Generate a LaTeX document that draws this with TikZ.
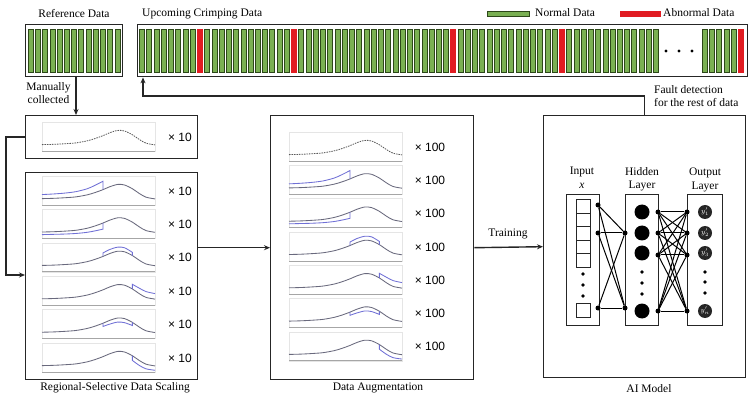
\documentclass[tikz,border=0pt]{standalone}
\usepackage{fontspec}
\setmainfont{Liberation Serif}
\setsansfont{Liberation Sans}
\usetikzlibrary{arrows.meta,calc}
\definecolor{barfill}{RGB}{122,176,82}
\definecolor{baredge}{RGB}{45,72,25}
\definecolor{badred}{RGB}{225,28,34}
\definecolor{curveblue}{RGB}{112,112,214}
\definecolor{curvegray}{RGB}{105,105,125}

\newcommand\basepath[1]{\draw[#1] plot[smooth] coordinates {(0,0.22) (0.1,0.23) (0.2,0.25) (0.3,0.28) (0.4,0.35) (0.47,0.43) (0.54,0.53) (0.6,0.63) (0.67,0.71) (0.73,0.69) (0.8,0.56) (0.86,0.40) (0.92,0.27) (1,0.21)};}

\newcommand\crimpplot[3]{%
  \begin{scope}[shift={(#1,#2+29)}, x=113pt, y=29pt]
    \draw[plotframe] (0,0) rectangle (1,1);
    \draw[axisline] (0,0) -- (1,0);
    \ifnum#3=0
      \basepath{refcurve}
    \else
      \basepath{basec}
      \ifcase#3\or
        \draw[bluec] plot[smooth] coordinates {(0,0.36) (0.1,0.38) (0.2,0.41) (0.3,0.46) (0.4,0.56) (0.47,0.68) (0.54,0.82)} -- (0.54,0.53);
      \or
        \draw[bluec] plot[smooth] coordinates {(0,0.13) (0.1,0.14) (0.2,0.15) (0.3,0.17) (0.4,0.21) (0.47,0.26) (0.54,0.32)} -- (0.54,0.53);
      \or
        \draw[bluec] (0.54,0.53) -- plot[smooth] coordinates {(0.54,0.65) (0.6,0.77) (0.67,0.85) (0.73,0.83) (0.8,0.67)} -- (0.8,0.56);
      \or
        \draw[bluec] (0.8,0.56) -- plot[smooth] coordinates {(0.8,0.72) (0.86,0.59) (0.92,0.47) (1,0.40)};
      \or
        \draw[bluec] (0.54,0.53) -- plot[smooth] coordinates {(0.54,0.42) (0.6,0.50) (0.67,0.57) (0.73,0.55) (0.8,0.45)} -- (0.8,0.56);
      \or
        \draw[bluec] (0.8,0.56) -- plot[smooth] coordinates {(0.8,0.40) (0.86,0.23) (0.92,0.11) (1,0.06)};
      \fi
    \fi
  \end{scope}}

\begin{document}
\begin{tikzpicture}[x=1pt,y=-1pt,
  font=\fontsize{11.5}{13}\selectfont,
  container/.style={draw=black!85, line width=1.4pt, inner sep=0pt, anchor=north west},
  nncol/.style={draw=black!85, line width=1pt, inner sep=0pt, anchor=north west, minimum height=131pt},
  arr/.style={draw=black!85, line width=1.4pt, -{Stealth[length=6pt,width=5pt]}},
  lbl/.style={inner sep=0pt},
  mult/.style={font=\sffamily\fontsize{12}{14}\selectfont, inner sep=0pt},
  goodbar/.style={draw=baredge, fill=barfill, line width=0.7pt},
  badbar/.style={draw=badred, fill=badred, line width=0.7pt},
  plotframe/.style={draw=black!10, line width=0.5pt},
  axisline/.style={draw=black!35, line width=0.7pt},
  refcurve/.style={draw=black!65, dash pattern=on 1.5pt off 1pt, line width=0.8pt},
  basec/.style={draw=curvegray, line width=0.85pt},
  bluec/.style={draw=curveblue, line width=0.85pt},
  neuron/.style={circle, fill=black, inner sep=0pt, minimum size=15pt},
  outneuron/.style={circle, fill=black!85, inner sep=0pt, minimum size=14pt, text=white, font=\fontsize{7}{7}\selectfont},
  jdot/.style={circle, fill=black, inner sep=0pt, minimum size=5pt},
  cell/.style={draw=black!85, line width=0.8pt, minimum width=14pt, minimum height=13.6pt, inner sep=0pt, anchor=north west},
  nnline/.style={line width=1pt, draw=black}
]
\useasboundingbox (0,0) rectangle (750,414);
\fill[white] (0,0) rectangle (750,414);

% ---------- top data strips ----------
\node[lbl] (reftitle) at (74,14) {Reference Data};
\node[lbl, anchor=west] (upctitle) at (142,14) {Upcoming Crimping Data};
\node[container, minimum width=97pt, minimum height=52pt] (ref) at (25,24) {};
\node[container, minimum width=610pt, minimum height=52pt] (upc) at (137,24) {};

\foreach \i in {0,...,12} {
  \pgfmathsetmacro\cx{30.8+7.22*\i}
  \draw[goodbar] (\cx-2.5,29) rectangle (\cx+2.5,72);
}
\foreach \i in {0,...,71} {
  \pgfmathsetmacro\cx{142+7.24*\i}
  \draw[goodbar] (\cx-2.5,29) rectangle (\cx+2.5,72);
}
\foreach \i in {8,21,43,58} {
  \pgfmathsetmacro\cx{142+7.24*\i}
  \draw[badbar] (\cx-2.5,29) rectangle (\cx+2.5,72);
}
\foreach \k in {1,...,5} {
  \pgfmathsetmacro\cx{741-7.24*\k}
  \draw[goodbar] (\cx-2.5,29) rectangle (\cx+2.5,72);
}
\draw[badbar] (738.5,29) rectangle (743.5,72);
\foreach \dx in {666,679,692} \fill (\dx,51) circle (1.7pt);

% legend
\draw[goodbar] (487,11) rectangle (529,16);
\node[lbl, anchor=west] (normleg) at (535,13) {Normal Data};
\draw[badbar] (620,11) rectangle (660,16);
\node[lbl, anchor=west] (abnleg) at (663,13) {Abnormal Data};

% ---------- left column ----------
\node[container, minimum width=172pt, minimum height=43pt] (box1) at (25,115) {};
\node[container, minimum width=172pt, minimum height=207pt] (box2) at (25,172) {};
\node[lbl] (rsds) at (115,388) {Regional-Selective Data Scaling};

\crimpplot{42}{122}{0}
\node[mult] (m0) at (180,137) {× 10};
\foreach \k/\t in {0/1,1/2,2/3,3/4,4/5,5/6} {
  \pgfmathsetmacro\ty{176+33.4*\k}
  \crimpplot{42}{\ty}{\t}
  \node[mult] (ml\t) at (180,\ty+15) {× 10};
}

% ---------- augmentation ----------
\node[container, minimum width=203pt, minimum height=264pt] (aug) at (270,115) {};
\node[lbl] (augtitle) at (378,388) {Data Augmentation};
\foreach \k/\t in {0/0,1/1,2/2,3/3,4/4,5/5,6/6} {
  \pgfmathsetmacro\ty{132+33.3*\k}
  \crimpplot{289}{\ty}{\t}
  \node[mult] (ma\k) at (430,\ty+15) {× 100};
}

% ---------- AI model ----------
\node[container, minimum width=202pt, minimum height=262pt] (ai) at (543,115) {};
\node[lbl] (aititle) at (649,389) {AI Model};

\node[nncol, minimum width=33pt] (incol) at (566,194) {};
\node[nncol, minimum width=33pt] (hidcol) at (625,194) {};
\node[nncol, minimum width=35pt] (outcol) at (687,194) {};

\node[lbl] (inl1) at (582,172) {Input};
\node[lbl] (inl2) at (582,186) {\textit{x}};
\node[lbl] (hil1) at (642,172) {Hidden};
\node[lbl] (hil2) at (642,186) {Layer};
\node[lbl] (oul1) at (705,173) {Output};
\node[lbl] (oul2) at (705,187) {Layer};

\foreach \j in {0,...,4} \node[cell] (c\j) at (576,199+13.6*\j) {};
\node[cell] (clast) at (576,303) {};
\foreach \dy in {274,285,296} \fill (583,\dy) circle (1.8pt);

\foreach \n/\yy in {1/212,2/233,3/253,4/311} \node[neuron] (h\n) at (642,\yy) {};
\foreach \dy in {272,283,294} \fill (642,\dy) circle (1.8pt);

\node[outneuron] (o1) at (705,212) {$y'_1$};
\node[outneuron] (o2) at (705,233) {$y'_2$};
\node[outneuron] (o3) at (705,253) {$y'_3$};
\node[outneuron] (o4) at (705,311) {$y'_n$};
\foreach \dy in {272,282,293} \fill (705,\dy) circle (1.8pt);

% junction dots
\node[jdot] (i1) at (598,205) {};
\node[jdot] (i2) at (598,233) {};
\node[jdot] (i3) at (598,308) {};
\node[jdot] (hl1) at (625,233) {};
\node[jdot] (hl2) at (625,308) {};
\foreach \n/\yy in {1/212,2/233,3/255,4/311} {
  \node[jdot] (hr\n) at (658,\yy) {};
  \node[jdot] (ol\n) at (687,\yy) {};
}
\foreach \a in {i1,i2,i3} \foreach \b in {hl1,hl2} \draw[nnline] (\a) -- (\b);
\foreach \a in {1,...,4} \foreach \b in {1,...,4} \draw[nnline] (hr\a) -- (ol\b);

% ---------- connectors ----------
\coordinate (mcx) at (76,0);
\draw[arr] (ref.south -| mcx) -- (box1.north -| mcx);
\node[lbl, align=center] (mctext) at (48.5,93.5) {Manually\\collected};

\coordinate (loopx) at (6,0);
\coordinate (box2in) at (25,275);
\draw[arr] (box1.west) -- (box1.west -| loopx) |- (box2in);

\draw[arr] (box2.east |- aug.west) -- (aug.west);
\draw[arr] (aug.east) -- (ai.west);
\node[lbl] (train) at (508,234) {Training};

\coordinate (fd) at (143,96);
\draw[arr] (ai.north) |- (fd) -- (fd |- upc.south);
\node[lbl, align=left, anchor=west] (fdtext) at (654,96.5) {Fault detection\\for the rest of data};
\end{tikzpicture}
\end{document}
